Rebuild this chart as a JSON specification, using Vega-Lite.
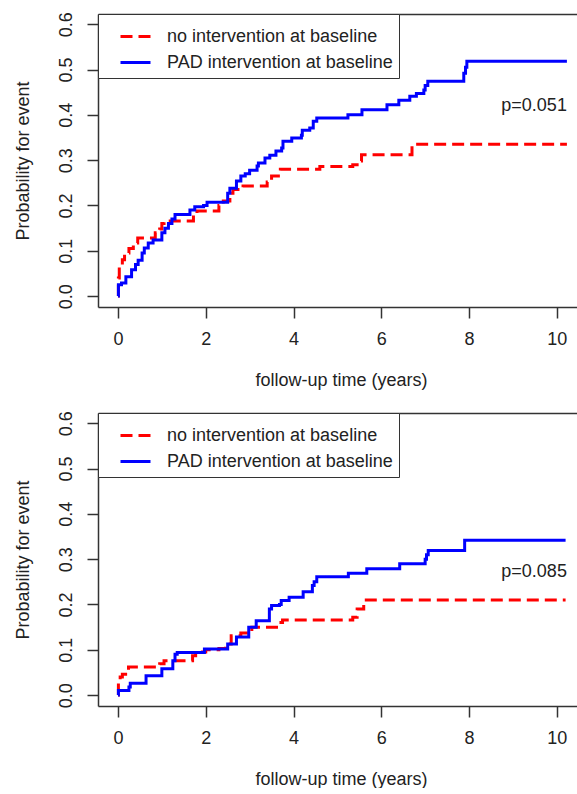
{
  "$schema": "https://vega.github.io/schema/vega-lite/v6.json",
  "padding": {"left": 14, "top": 11, "right": 0, "bottom": 0},
  "background": "white",
  "datasets": {
    "km_top": [
      {"time": 0, "prob": 0, "group": "no intervention at baseline"},
      {"time": 0.01, "prob": 0.04, "group": "no intervention at baseline"},
      {"time": 0.03, "prob": 0.066, "group": "no intervention at baseline"},
      {"time": 0.1, "prob": 0.08, "group": "no intervention at baseline"},
      {"time": 0.15, "prob": 0.095, "group": "no intervention at baseline"},
      {"time": 0.25, "prob": 0.105, "group": "no intervention at baseline"},
      {"time": 0.35, "prob": 0.117, "group": "no intervention at baseline"},
      {"time": 0.45, "prob": 0.128, "group": "no intervention at baseline"},
      {"time": 0.85, "prob": 0.14, "group": "no intervention at baseline"},
      {"time": 0.95, "prob": 0.148, "group": "no intervention at baseline"},
      {"time": 1.0, "prob": 0.16, "group": "no intervention at baseline"},
      {"time": 1.05, "prob": 0.166, "group": "no intervention at baseline"},
      {"time": 1.72, "prob": 0.18, "group": "no intervention at baseline"},
      {"time": 1.8, "prob": 0.188, "group": "no intervention at baseline"},
      {"time": 2.3, "prob": 0.2, "group": "no intervention at baseline"},
      {"time": 2.4, "prob": 0.21, "group": "no intervention at baseline"},
      {"time": 2.55, "prob": 0.227, "group": "no intervention at baseline"},
      {"time": 2.62, "prob": 0.235, "group": "no intervention at baseline"},
      {"time": 2.85, "prob": 0.243, "group": "no intervention at baseline"},
      {"time": 3.4, "prob": 0.252, "group": "no intervention at baseline"},
      {"time": 3.5, "prob": 0.265, "group": "no intervention at baseline"},
      {"time": 3.7, "prob": 0.28, "group": "no intervention at baseline"},
      {"time": 4.6, "prob": 0.286, "group": "no intervention at baseline"},
      {"time": 5.35, "prob": 0.29, "group": "no intervention at baseline"},
      {"time": 5.45, "prob": 0.298, "group": "no intervention at baseline"},
      {"time": 5.55, "prob": 0.312, "group": "no intervention at baseline"},
      {"time": 6.7, "prob": 0.335, "group": "no intervention at baseline"},
      {"time": 10.23, "prob": 0.335, "group": "no intervention at baseline"},
      {"time": 0, "prob": 0, "group": "PAD intervention at baseline"},
      {"time": 0.01, "prob": 0.025, "group": "PAD intervention at baseline"},
      {"time": 0.08, "prob": 0.029, "group": "PAD intervention at baseline"},
      {"time": 0.18, "prob": 0.043, "group": "PAD intervention at baseline"},
      {"time": 0.31, "prob": 0.058, "group": "PAD intervention at baseline"},
      {"time": 0.4, "prob": 0.07, "group": "PAD intervention at baseline"},
      {"time": 0.46, "prob": 0.079, "group": "PAD intervention at baseline"},
      {"time": 0.55, "prob": 0.095, "group": "PAD intervention at baseline"},
      {"time": 0.6, "prob": 0.106, "group": "PAD intervention at baseline"},
      {"time": 0.69, "prob": 0.117, "group": "PAD intervention at baseline"},
      {"time": 0.8, "prob": 0.124, "group": "PAD intervention at baseline"},
      {"time": 1.0, "prob": 0.14, "group": "PAD intervention at baseline"},
      {"time": 1.07, "prob": 0.15, "group": "PAD intervention at baseline"},
      {"time": 1.15, "prob": 0.16, "group": "PAD intervention at baseline"},
      {"time": 1.23, "prob": 0.17, "group": "PAD intervention at baseline"},
      {"time": 1.3, "prob": 0.18, "group": "PAD intervention at baseline"},
      {"time": 1.64, "prob": 0.19, "group": "PAD intervention at baseline"},
      {"time": 1.75, "prob": 0.197, "group": "PAD intervention at baseline"},
      {"time": 1.95, "prob": 0.2, "group": "PAD intervention at baseline"},
      {"time": 2.03, "prob": 0.207, "group": "PAD intervention at baseline"},
      {"time": 2.5, "prob": 0.227, "group": "PAD intervention at baseline"},
      {"time": 2.55, "prob": 0.238, "group": "PAD intervention at baseline"},
      {"time": 2.7, "prob": 0.254, "group": "PAD intervention at baseline"},
      {"time": 2.8, "prob": 0.265, "group": "PAD intervention at baseline"},
      {"time": 2.9, "prob": 0.27, "group": "PAD intervention at baseline"},
      {"time": 3.0, "prob": 0.278, "group": "PAD intervention at baseline"},
      {"time": 3.17, "prob": 0.287, "group": "PAD intervention at baseline"},
      {"time": 3.2, "prob": 0.294, "group": "PAD intervention at baseline"},
      {"time": 3.35, "prob": 0.305, "group": "PAD intervention at baseline"},
      {"time": 3.46, "prob": 0.311, "group": "PAD intervention at baseline"},
      {"time": 3.6, "prob": 0.32, "group": "PAD intervention at baseline"},
      {"time": 3.73, "prob": 0.327, "group": "PAD intervention at baseline"},
      {"time": 3.76, "prob": 0.342, "group": "PAD intervention at baseline"},
      {"time": 3.96, "prob": 0.349, "group": "PAD intervention at baseline"},
      {"time": 4.18, "prob": 0.355, "group": "PAD intervention at baseline"},
      {"time": 4.2, "prob": 0.366, "group": "PAD intervention at baseline"},
      {"time": 4.37, "prob": 0.371, "group": "PAD intervention at baseline"},
      {"time": 4.45, "prob": 0.386, "group": "PAD intervention at baseline"},
      {"time": 4.53, "prob": 0.393, "group": "PAD intervention at baseline"},
      {"time": 5.24, "prob": 0.4, "group": "PAD intervention at baseline"},
      {"time": 5.56, "prob": 0.411, "group": "PAD intervention at baseline"},
      {"time": 6.13, "prob": 0.422, "group": "PAD intervention at baseline"},
      {"time": 6.4, "prob": 0.432, "group": "PAD intervention at baseline"},
      {"time": 6.65, "prob": 0.441, "group": "PAD intervention at baseline"},
      {"time": 6.8, "prob": 0.447, "group": "PAD intervention at baseline"},
      {"time": 6.97, "prob": 0.455, "group": "PAD intervention at baseline"},
      {"time": 7.0, "prob": 0.465, "group": "PAD intervention at baseline"},
      {"time": 7.06, "prob": 0.474, "group": "PAD intervention at baseline"},
      {"time": 7.88, "prob": 0.492, "group": "PAD intervention at baseline"},
      {"time": 7.92, "prob": 0.505, "group": "PAD intervention at baseline"},
      {"time": 7.95, "prob": 0.518, "group": "PAD intervention at baseline"},
      {"time": 10.23, "prob": 0.518, "group": "PAD intervention at baseline"}
    ],
    "km_bottom": [
      {"time": 0, "prob": 0, "group": "no intervention at baseline"},
      {"time": 0.01, "prob": 0.03, "group": "no intervention at baseline"},
      {"time": 0.05, "prob": 0.04, "group": "no intervention at baseline"},
      {"time": 0.1, "prob": 0.046, "group": "no intervention at baseline"},
      {"time": 0.24, "prob": 0.062, "group": "no intervention at baseline"},
      {"time": 0.95, "prob": 0.069, "group": "no intervention at baseline"},
      {"time": 1.05, "prob": 0.076, "group": "no intervention at baseline"},
      {"time": 1.7, "prob": 0.087, "group": "no intervention at baseline"},
      {"time": 1.77, "prob": 0.095, "group": "no intervention at baseline"},
      {"time": 2.0, "prob": 0.1, "group": "no intervention at baseline"},
      {"time": 2.3, "prob": 0.103, "group": "no intervention at baseline"},
      {"time": 2.45, "prob": 0.113, "group": "no intervention at baseline"},
      {"time": 2.58, "prob": 0.131, "group": "no intervention at baseline"},
      {"time": 2.8, "prob": 0.137, "group": "no intervention at baseline"},
      {"time": 3.05, "prob": 0.15, "group": "no intervention at baseline"},
      {"time": 3.65, "prob": 0.16, "group": "no intervention at baseline"},
      {"time": 3.75, "prob": 0.166, "group": "no intervention at baseline"},
      {"time": 5.35, "prob": 0.172, "group": "no intervention at baseline"},
      {"time": 5.45, "prob": 0.19, "group": "no intervention at baseline"},
      {"time": 5.6, "prob": 0.21, "group": "no intervention at baseline"},
      {"time": 10.2, "prob": 0.21, "group": "no intervention at baseline"},
      {"time": 0, "prob": 0, "group": "PAD intervention at baseline"},
      {"time": 0.01, "prob": 0.01, "group": "PAD intervention at baseline"},
      {"time": 0.25, "prob": 0.018, "group": "PAD intervention at baseline"},
      {"time": 0.28, "prob": 0.026, "group": "PAD intervention at baseline"},
      {"time": 0.64, "prob": 0.043, "group": "PAD intervention at baseline"},
      {"time": 1.0, "prob": 0.058, "group": "PAD intervention at baseline"},
      {"time": 1.25, "prob": 0.076, "group": "PAD intervention at baseline"},
      {"time": 1.3, "prob": 0.09, "group": "PAD intervention at baseline"},
      {"time": 1.35, "prob": 0.094, "group": "PAD intervention at baseline"},
      {"time": 1.97, "prob": 0.102, "group": "PAD intervention at baseline"},
      {"time": 2.5, "prob": 0.113, "group": "PAD intervention at baseline"},
      {"time": 2.7, "prob": 0.128, "group": "PAD intervention at baseline"},
      {"time": 2.98, "prob": 0.15, "group": "PAD intervention at baseline"},
      {"time": 3.15, "prob": 0.164, "group": "PAD intervention at baseline"},
      {"time": 3.45, "prob": 0.19, "group": "PAD intervention at baseline"},
      {"time": 3.5, "prob": 0.198, "group": "PAD intervention at baseline"},
      {"time": 3.68, "prob": 0.2, "group": "PAD intervention at baseline"},
      {"time": 3.72, "prob": 0.209, "group": "PAD intervention at baseline"},
      {"time": 3.9, "prob": 0.216, "group": "PAD intervention at baseline"},
      {"time": 4.22, "prob": 0.228, "group": "PAD intervention at baseline"},
      {"time": 4.43, "prob": 0.242, "group": "PAD intervention at baseline"},
      {"time": 4.47, "prob": 0.25, "group": "PAD intervention at baseline"},
      {"time": 4.53, "prob": 0.261, "group": "PAD intervention at baseline"},
      {"time": 5.25, "prob": 0.269, "group": "PAD intervention at baseline"},
      {"time": 5.67, "prob": 0.279, "group": "PAD intervention at baseline"},
      {"time": 6.42, "prob": 0.29, "group": "PAD intervention at baseline"},
      {"time": 7.0, "prob": 0.3, "group": "PAD intervention at baseline"},
      {"time": 7.03, "prob": 0.31, "group": "PAD intervention at baseline"},
      {"time": 7.07, "prob": 0.319, "group": "PAD intervention at baseline"},
      {"time": 7.9, "prob": 0.342, "group": "PAD intervention at baseline"},
      {"time": 10.2, "prob": 0.342, "group": "PAD intervention at baseline"}
    ],
    "p_top": [{"time": 10.23, "prob": 0.42, "label": "p=0.051"}],
    "p_bottom": [{"time": 10.23, "prob": 0.272, "label": "p=0.085"}]
  },
  "vconcat": [
    {
      "width": 479,
      "height": 293,
      "layer": [
        {
          "data": {"name": "km_top"},
          "mark": {"type": "line", "interpolate": "step-after", "strokeWidth": 3, "clip": true},
          "encoding": {
            "x": {"field": "time", "type": "quantitative", "scale": {"domain": [-0.455, 10.46], "nice": false, "zero": false}, "axis": {"orient": "bottom", "values": [0, 2, 4, 6, 8, 10], "title": "follow-up time (years)", "titleX": 243}},
            "y": {"field": "prob", "type": "quantitative", "scale": {"domain": [-0.024, 0.6225], "nice": false, "zero": false}, "axis": {"values": [0, 0.1, 0.2, 0.3, 0.4, 0.5, 0.6], "format": ".1f", "labelAngle": -90, "title": "Probability for event"}},
            "color": {"field": "group", "type": "nominal", "scale": {"domain": ["no intervention at baseline", "PAD intervention at baseline"], "range": ["#ff0000", "#0000ff"]}, "legend": {"orient": "none", "legendX": 0, "legendY": 0, "title": null}},
            "strokeDash": {"field": "group", "type": "nominal", "scale": {"domain": ["no intervention at baseline", "PAD intervention at baseline"], "range": [[12, 6], [1, 0]]}, "legend": {"orient": "none", "legendX": 0, "legendY": 0, "title": null}}
          }
        },
        {
          "data": {"name": "p_top"},
          "mark": {"type": "text", "align": "right", "baseline": "middle", "fontSize": 18, "font": "Liberation Sans", "color": "#222"},
          "encoding": {
            "x": {"field": "time", "type": "quantitative", "scale": {"domain": [-0.455, 10.46], "nice": false, "zero": false}, "axis": {"orient": "top", "labels": false, "ticks": false, "title": null}},
            "y": {"field": "prob", "type": "quantitative", "scale": {"domain": [-0.024, 0.6225], "nice": false, "zero": false}, "axis": {"values": [0, 0.1, 0.2, 0.3, 0.4, 0.5, 0.6], "format": ".1f", "labelAngle": -90, "title": "Probability for event"}},
            "text": {"field": "label"}
          }
        }
      ]
    },
    {
      "width": 479,
      "height": 293,
      "layer": [
        {
          "data": {"name": "km_bottom"},
          "mark": {"type": "line", "interpolate": "step-after", "strokeWidth": 3, "clip": true},
          "encoding": {
            "x": {"field": "time", "type": "quantitative", "scale": {"domain": [-0.455, 10.46], "nice": false, "zero": false}, "axis": {"orient": "bottom", "values": [0, 2, 4, 6, 8, 10], "title": "follow-up time (years)", "titleX": 243}},
            "y": {"field": "prob", "type": "quantitative", "scale": {"domain": [-0.024, 0.6225], "nice": false, "zero": false}, "axis": {"values": [0, 0.1, 0.2, 0.3, 0.4, 0.5, 0.6], "format": ".1f", "labelAngle": -90, "title": "Probability for event"}},
            "color": {"field": "group", "type": "nominal", "scale": {"domain": ["no intervention at baseline", "PAD intervention at baseline"], "range": ["#ff0000", "#0000ff"]}, "legend": {"orient": "none", "legendX": 0, "legendY": 0, "title": null}},
            "strokeDash": {"field": "group", "type": "nominal", "scale": {"domain": ["no intervention at baseline", "PAD intervention at baseline"], "range": [[12, 6], [1, 0]]}, "legend": {"orient": "none", "legendX": 0, "legendY": 0, "title": null}}
          }
        },
        {
          "data": {"name": "p_bottom"},
          "mark": {"type": "text", "align": "right", "baseline": "middle", "fontSize": 18, "font": "Liberation Sans", "color": "#222"},
          "encoding": {
            "x": {"field": "time", "type": "quantitative", "scale": {"domain": [-0.455, 10.46], "nice": false, "zero": false}, "axis": {"orient": "top", "labels": false, "ticks": false, "title": null}},
            "y": {"field": "prob", "type": "quantitative", "scale": {"domain": [-0.024, 0.6225], "nice": false, "zero": false}, "axis": {"values": [0, 0.1, 0.2, 0.3, 0.4, 0.5, 0.6], "format": ".1f", "labelAngle": -90, "title": "Probability for event"}},
            "text": {"field": "label"}
          }
        }
      ]
    }
  ],
  "spacing": 106,
  "bounds": "flush",
  "resolve": {"scale": {"color": "independent", "strokeDash": "independent"}},
  "config": {
    "view": {"stroke": null},
    "font": "Liberation Sans",
    "axis": {
      "grid": false,
      "domainColor": "#333",
      "domainWidth": 1.5,
      "tickColor": "#333",
      "tickWidth": 1.5,
      "tickSize": 11,
      "labelFont": "Liberation Sans",
      "labelFontSize": 18,
      "labelColor": "#222",
      "titleFont": "Liberation Sans",
      "titleFontSize": 18,
      "titleFontWeight": "normal",
      "titleColor": "#222"
    },
    "axisX": {"labelPadding": 12, "titlePadding": 23},
    "axisY": {"labelPadding": 12, "titlePadding": 25},
    "legend": {
      "symbolType": "stroke",
      "symbolSize": 900,
      "symbolStrokeWidth": 3,
      "symbolOffset": 15,
      "labelFont": "Liberation Sans",
      "labelFontSize": 18,
      "labelColor": "#222",
      "labelLimit": 400,
      "padding": 6,
      "rowPadding": -9,
      "labelOffset": 15,
      "strokeColor": "#333",
      "fillColor": "white"
    }
  }
}
